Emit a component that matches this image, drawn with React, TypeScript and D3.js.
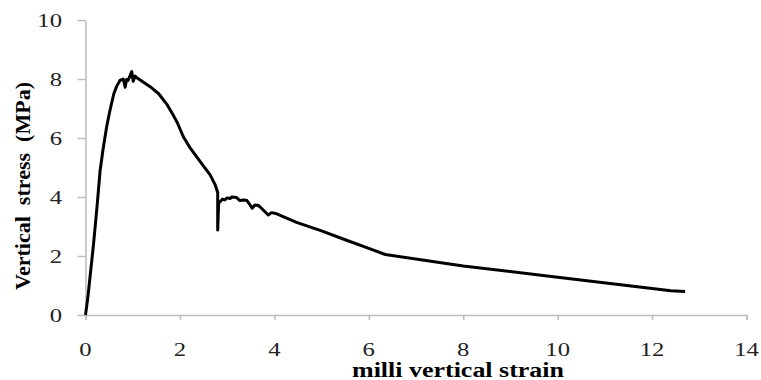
import React, { useEffect, useRef } from "react";
import * as d3 from "d3";

// strain (milli) vs vertical stress (MPa)
const strain = [
  0, 0.05, 0.1, 0.17, 0.24, 0.31, 0.37, 0.45, 0.52, 0.6, 0.66, 0.73, 0.8, 0.84, 0.87, 0.9, 0.94,
  0.98, 1.01, 1.05, 1.08, 1.22, 1.4, 1.55, 1.72, 1.85, 1.95, 2.07, 2.2, 2.36, 2.5, 2.64, 2.75,
  2.8, 2.8, 2.82, 2.86, 2.9, 2.95, 3.0, 3.06, 3.1, 3.2, 3.27, 3.35, 3.42, 3.49, 3.53, 3.59, 3.65,
  3.7, 3.8, 3.87, 3.94, 4.05, 4.47, 5.0, 5.5, 6.0, 6.35, 8.0, 10.0, 12.0, 12.4, 12.7,
];
const stress = [
  0, 0.6, 1.35, 2.4, 3.6, 4.9, 5.6, 6.4, 6.95, 7.5, 7.75, 7.95, 8.0, 7.72, 7.98, 7.95, 8.1,
  8.25, 7.92, 8.1, 8.05, 7.9, 7.7, 7.5, 7.15, 6.8, 6.5, 6.05, 5.7, 5.35, 5.05, 4.75, 4.4,
  4.15, 2.88, 3.8, 3.85, 3.93, 3.9, 3.97, 3.95, 4.0, 3.98, 3.88, 3.9, 3.88, 3.72, 3.62, 3.73, 3.72,
  3.66, 3.5, 3.39, 3.47, 3.43, 3.14, 2.85, 2.55, 2.26, 2.05, 1.66, 1.28, 0.9, 0.82, 0.8,
];
const xTicks = [0, 2, 4, 6, 8, 10, 12, 14];
const yTicks = [0, 2, 4, 6, 8, 10];

export default function App() {
  const svgRef = useRef<SVGSVGElement | null>(null);

  useEffect(() => {
    if (!svgRef.current) return;
    const svg = d3.select(svgRef.current);
    svg.selectAll("*").remove();

    const x = d3.scaleLinear().domain([0, 14]).range([85.5, 746.5]);
    const y = d3.scaleLinear().domain([0, 10]).range([315, 20]);
    const font = "'Liberation Serif', 'Times New Roman', serif";

    // axes
    const xAxis = svg.append("g").attr("transform", `translate(0,${y(0)})`)
      .call(d3.axisBottom(x).tickValues(xTicks).tickSize(5).tickFormat(() => ""));
    xAxis.select(".domain").attr("stroke", "#bdbdbd").attr("stroke-width", 1.5);
    xAxis.selectAll(".tick line").attr("stroke", "#bdbdbd").attr("stroke-width", 1.5);

    const yAxis = svg.append("g").attr("transform", `translate(${x(0)},0)`)
      .call(d3.axisLeft(y).tickValues(yTicks).tickSize(8).tickSizeOuter(0).tickFormat(() => ""));
    yAxis.select(".domain").attr("stroke", "#a8a8a8").attr("stroke-width", 1.2);
    yAxis.selectAll(".tick line").attr("stroke", "#bdbdbd").attr("stroke-width", 1.5);

    // tick labels (the source image is stretched sideways)
    svg.append("g").selectAll("text").data(xTicks).join("text")
      .attr("transform", d => `translate(${x(d)},355.5) scale(1.3,1)`)
      .attr("text-anchor", "middle")
      .style("font-family", font).style("font-size", "19px").attr("fill", "#222")
      .text(d => d);

    svg.append("g").selectAll("text").data(yTicks).join("text")
      .attr("transform", d => `translate(62,${y(d) + 6.5}) scale(1.3,1)`)
      .attr("text-anchor", "end")
      .style("font-family", font).style("font-size", "19px").attr("fill", "#222")
      .text(d => d);

    // curve
    const pts = strain.map((s, i) => [s, stress[i]] as [number, number]);
    svg.append("path")
      .datum(pts)
      .attr("fill", "none")
      .attr("stroke", "#000")
      .attr("stroke-width", 3)
      .attr("stroke-linejoin", "round")
      .attr("d", d3.line<[number, number]>().x(d => x(d[0])).y(d => y(d[1])));

    // axis titles
    svg.append("text")
      .attr("x", 352).attr("y", 377)
      .attr("textLength", 212).attr("lengthAdjust", "spacingAndGlyphs")
      .style("font-family", font).style("font-size", "20px").style("font-weight", "bold")
      .text("milli vertical strain");

    svg.append("text")
      .attr("transform", "translate(30,186) rotate(-90)")
      .attr("text-anchor", "middle")
      .attr("xml:space", "preserve")
      .attr("textLength", 208).attr("lengthAdjust", "spacingAndGlyphs")
      .style("white-space", "pre")
      .style("font-family", font).style("font-size", "21px").style("font-weight", "bold")
      .text("Vertical  stress  (MPa)");
  }, []);

  return (
    <svg
      ref={svgRef}
      width={761}
      height={380}
      style={{ position: "absolute", left: 0, top: 0, background: "#fff" }}
    />
  );
}
